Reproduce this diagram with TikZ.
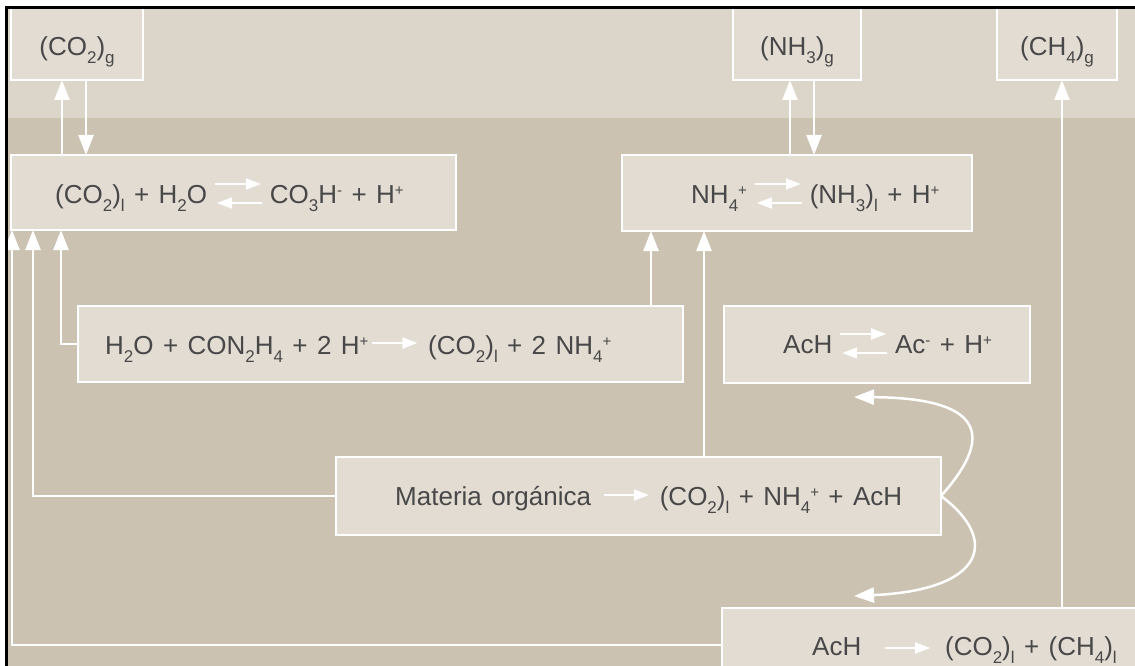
\documentclass[tikz,border=0pt]{standalone}
\usepackage{fontspec}
\setmainfont{Liberation Sans}[WordSpace=1.3]
\usetikzlibrary{arrows.meta}
\definecolor{topband}{HTML}{DCD5CA}
\definecolor{bgc}{HTML}{CCC2B1}
\definecolor{boxc}{HTML}{E2DCD2}
\definecolor{textc}{HTML}{484848}
\newcommand{\sbs}[1]{\raisebox{-8pt}{\fontsize{17}{17}\selectfont #1}}
\newcommand{\sps}[1]{\raisebox{8pt}{\fontsize{15}{15}\selectfont #1}}
\tikzset{
  smallarr/.style={white,line width=1.8pt,-{Triangle[length=15pt,width=11pt]}},
  smallarrl/.style={white,line width=1.8pt,{Triangle[length=15pt,width=11pt]}-},
  conn/.style={white,line width=2.5pt,-{Triangle[length=20pt,width=15pt]}},
  box/.style={draw=white,line width=2.5pt,fill=boxc,inner sep=0pt,outer sep=0pt},
  txt/.style={text=textc,font=\fontsize{26}{30}\selectfont,inner sep=0pt,anchor=base west},
  ctxt/.style={text=textc,font=\fontsize{26}{30}\selectfont,inner sep=0pt,anchor=base}
}
\newcommand{\eqarr}{\hspace{7pt}\tikz[baseline=0pt,x=1pt,y=1pt]{\draw[smallarr] (0,19)--(46,19); \draw[smallarrl] (2,0)--(47,0);}\hspace{7pt}}
\newcommand{\rarr}[1]{\tikz[baseline=0pt,x=1pt,y=1pt]{\draw[smallarr] (0,#1)--(45,#1);}}
\begin{document}
\begin{tikzpicture}[x=1pt,y=-1pt]
\clip (0,0) rectangle (1135,666);
\useasboundingbox (0,0) rectangle (1135,666);
% backgrounds
\fill[bgc] (0,0) rectangle (1135,666);
\fill[topband] (0,0) rectangle (1135,118);
% boxes
\node[box,minimum width=132pt,minimum height=76pt] (co2g) at (77,42) {};
\node[box,minimum width=128pt,minimum height=76pt] (nh3g) at (797,42) {};
\node[box,minimum width=120pt,minimum height=76pt] (ch4g) at (1057,42) {};
\node[box,minimum width=445pt,minimum height=75pt] (co2eq) at (233.5,192.5) {};
\node[box,minimum width=350pt,minimum height=76pt] (nh4eq) at (797,193) {};
\node[box,minimum width=605pt,minimum height=76pt] (urea) at (380.5,344) {};
\node[box,minimum width=306pt,minimum height=77pt] (acheq) at (877,344.5) {};
\node[box,minimum width=605pt,minimum height=78pt] (mat) at (638.5,496) {};
\node[box,minimum width=438pt,minimum height=92pt] (bot) at (941,654) {};
% helper coordinates
\coordinate (c1) at ([xshift=51pt]co2eq.north west);
\coordinate (c2) at ([xshift=75pt]co2eq.north west);
\coordinate (n1) at ([xshift=168pt]nh4eq.north west);
\coordinate (n2) at ([xshift=192pt]nh4eq.north west);
\coordinate (b1) at ([xshift=340pt]bot.north west);
\coordinate (u1) at ([xshift=-32pt]urea.north east);
\coordinate (m1) at ([xshift=368pt]mat.north west);
\coordinate (k1) at ([yshift=9pt]bot.west);
\coordinate (a1) at (854,397);
\coordinate (a2) at (854,596);
% connectors
\draw[conn] (c1) -- (c1 |- co2g.south);
\draw[conn] (c2 |- co2g.south) -- (c2);
\draw[conn] (n1) -- (n1 |- nh3g.south);
\draw[conn] (n2 |- nh3g.south) -- (n2);
\draw[conn] (b1) -- (b1 |- ch4g.south);
\draw[conn] (u1) -- (u1 |- nh4eq.south);
\draw[conn] (m1) -- (m1 |- nh4eq.south);
\draw[conn] (urea.west) -| ([xshift=50pt]co2eq.south west);
\draw[conn] (mat.west) -| ([xshift=22pt]co2eq.south west);
\draw[conn] (k1) -| ([xshift=1pt]co2eq.south west);
\draw[conn] (mat.east) .. controls (1000,430) and (975,398) .. (a1);
\draw[conn] (mat.east) .. controls (1000,540) and (985,590) .. (a2);
% texts
\node[ctxt] (t1) at (77,56) {(CO\sbs{2})\sbs{g}};
\node[ctxt] (t2) at (797,56) {(NH\sbs{3})\sbs{g}};
\node[ctxt] (t3) at (1057,56) {(CH\sbs{4})\sbs{g}};
\node[txt] (t4) at (55,203) {(CO\sbs{2})\sbs{l} + H\sbs{2}O\eqarr CO\sbs{3}H\sps{-} + H\sps{+}};
\node[txt] (t5) at (691,203) {NH\sbs{4}\sps{+}\eqarr (NH\sbs{3})\sbs{l} + H\sps{+}};
\node[txt] (t6) at (105,354) {H\sbs{2}O + CON\sbs{2}H\sbs{4} + 2 H\sps{+}\hspace{3pt}\rarr{11}\hspace{10pt}(CO\sbs{2})\sbs{l} + 2 NH\sbs{4}\sps{+}};
\node[txt] (t7) at (783,353) {AcH\eqarr Ac\sps{-} + H\sps{+}};
\node[txt] (t8) at (395,505) {Materia orgánica\hspace{12pt}\rarr{10}\hspace{10pt}(CO\sbs{2})\sbs{l} + NH\sbs{4}\sps{+} + AcH};
\node[txt] (t9) at (812,655) {AcH\hspace{23pt}\rarr{7}\hspace{14pt}(CO\sbs{2})\sbs{l} + (CH\sbs{4})\sbs{l}};
% frame
\fill[white] (0,0) rectangle (1135,6.2);
\fill[white] (0,0) rectangle (5.2,666);
\draw[black,line width=2.6pt] (6.5,666) -- (6.5,7.5) -- (1135,7.5);
\end{tikzpicture}
\end{document}
